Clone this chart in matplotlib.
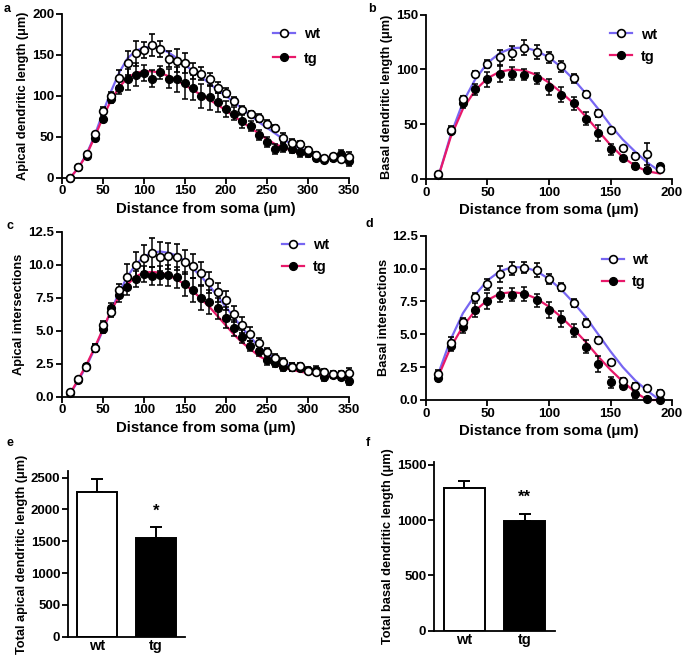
import matplotlib
matplotlib.use("Agg")
import matplotlib.pyplot as plt
import numpy as np

plt.rcParams["font.family"] = ["Liberation Sans", "DejaVu Sans"]
plt.rcParams["font.weight"] = "bold"
plt.rcParams["axes.labelweight"] = "bold"

WT_LINE = "#7766f2"
TG_LINE = "#e8196a"

# ---- apical length (panel a) ----
apical_x = list(range(10, 351, 10))
apical_len_wt = [0, 13, 29, 53, 82, 100, 122, 140, 152, 156, 162, 157, 145, 143, 140, 130, 127, 120,
                 110, 104, 94, 83, 78, 73, 66, 61, 49, 42, 41, 34, 28, 24, 26, 23, 25]
apical_len_wt_err = [1, 2, 3, 3, 4, 5, 10, 15, 15, 10, 13, 10, 10, 14, 12, 10, 8, 8,
                     7, 5, 5, 5, 4, 5, 4, 3, 6, 5, 4, 4, 4, 3, 3, 3, 6]
apical_len_tg = [0, 13, 26, 49, 72, 96, 110, 120, 126, 128, 121, 129, 121, 120, 116, 110, 100, 98,
                 92, 84, 78, 69, 63, 52, 44, 35, 37, 35, 31, 30, 24, 22, 24, 29, 20]
apical_len_tg_err = [1, 2, 3, 3, 4, 5, 8, 13, 14, 10, 10, 8, 12, 15, 20, 15, 15, 15,
                     12, 10, 8, 8, 6, 6, 6, 6, 5, 5, 6, 5, 4, 3, 3, 5, 6]
apical_len_fit_wt = [0, 12, 29, 52, 80, 106, 129, 146, 155, 159, 160, 158, 153, 146, 138, 130, 123, 115,
                     107, 100, 92, 84, 76, 68, 61, 54, 47, 41, 36, 32, 28, 26, 24, 23, 23]
apical_len_fit_tg = [0, 12, 28, 50, 74, 95, 111, 122, 128, 130, 130, 128, 124, 119, 113, 107, 101, 95,
                     89, 82, 75, 68, 61, 54, 47, 41, 37, 33, 30, 28, 26, 25, 24, 24, 24]

# ---- basal length (panel b) ----
basal_x = list(range(10, 191, 10))
basal_len_wt = [5, 45, 73, 96, 105, 111, 115, 120, 116, 111, 103, 92, 78, 60, 45, 28, 21, 23, 9]
basal_len_wt_err = [1, 3, 3, 3, 4, 7, 6, 7, 6, 5, 5, 4, 2, 3, 2, 2, 3, 10, 2]
basal_len_tg = [4, 44, 69, 82, 91, 96, 96, 95, 92, 84, 77, 69, 55, 42, 27, 19, 12, 8, 12]
basal_len_tg_err = [1, 3, 4, 5, 7, 7, 6, 5, 5, 7, 7, 6, 6, 7, 5, 2, 3, 2, 2]
basal_len_fit_wt = [2, 40, 70, 91, 106, 115, 119.5, 120, 117, 111, 102, 91, 78, 64, 49, 36, 25, 15, 7]
basal_len_fit_tg = [2, 38, 64, 81, 92, 98, 100, 99, 95, 88, 79, 69, 57, 44, 31, 20, 12, 7, 5]

# ---- apical intersections (panel c) ----
apical_int_wt = [0.38, 1.34, 2.27, 3.71, 5.43, 6.44, 8.06, 9.07, 9.97, 10.48, 10.9, 10.6, 10.68, 10.6,
                 10.2, 9.9, 9.34, 8.66, 7.9, 7.3, 6.26, 5.43, 4.75, 4.04, 3.36, 2.9, 2.6, 2.24, 2.32,
                 1.95, 1.86, 1.84, 1.72, 1.72, 1.8]
apical_int_wt_err = [0.1, 0.15, 0.2, 0.3, 0.3, 0.4, 0.5, 1.0, 1.0, 1.0, 1.1, 1.1, 1.0, 1.0,
                     0.9, 0.9, 0.9, 0.8, 0.7, 0.7, 0.6, 0.6, 0.5, 0.4, 0.3, 0.3, 0.3, 0.3, 0.25,
                     0.25, 0.25, 0.25, 0.25, 0.25, 0.4]
apical_int_tg = [0.3, 1.3, 2.3, 3.7, 5.1, 6.69, 7.7, 8.33, 8.89, 9.27, 9.14, 9.2, 9.2, 9.04,
                 8.54, 8.08, 7.45, 7.2, 6.7, 5.99, 5.18, 4.55, 3.84, 3.46, 2.78, 2.58, 2.27, 2.22,
                 2.2, 2.02, 2.05, 1.47, 1.64, 1.52, 1.2]
apical_int_tg_err = [0.1, 0.15, 0.2, 0.3, 0.3, 0.4, 0.5, 0.6, 0.6, 0.6, 0.7, 0.7, 0.8, 0.8,
                     0.9, 0.9, 0.9, 0.9, 0.8, 0.8, 0.6, 0.5, 0.4, 0.4, 0.35, 0.3, 0.3, 0.3, 0.25,
                     0.25, 0.25, 0.25, 0.25, 0.25, 0.3]
apical_int_fit_wt = [0.2, 1.2, 2.3, 3.6, 5.0, 6.5, 7.9, 9.1, 10.0, 10.6, 10.9, 11.0, 10.9, 10.7,
                     10.3, 9.7, 9.1, 8.4, 7.6, 6.8, 6.0, 5.2, 4.5, 3.8, 3.3, 2.9, 2.6, 2.3, 2.1,
                     1.9, 1.8, 1.7, 1.6, 1.6, 1.5]
apical_int_fit_tg = [0.2, 1.3, 2.4, 3.7, 5.1, 6.5, 7.6, 8.5, 9.1, 9.4, 9.45, 9.4, 9.2, 8.9,
                     8.5, 8.0, 7.4, 6.8, 6.1, 5.4, 4.7, 4.1, 3.6, 3.1, 2.75, 2.45, 2.2, 2.05, 1.9,
                     1.8, 1.7, 1.6, 1.5, 1.45, 1.4]

# ---- basal intersections (panel d) ----
basal_int_wt = [1.98, 4.36, 5.93, 7.81, 8.8, 9.58, 10.0, 10.07, 9.89, 9.2, 8.62, 7.4, 5.88, 4.56,
                2.87, 1.47, 1.09, 0.89, 0.56]
basal_int_wt_err = [0.3, 0.4, 0.3, 0.3, 0.4, 0.6, 0.5, 0.4, 0.5, 0.4, 0.3, 0.3, 0.3, 0.2,
                    0.2, 0.2, 0.2, 0.2, 0.2]
basal_int_tg = [1.65, 4.1, 5.53, 6.85, 7.56, 7.99, 8.01, 8.06, 7.6, 6.85, 6.14, 5.27, 4.06, 2.74,
                1.34, 1.06, 0.46, 0.1, 0.0]
basal_int_tg_err = [0.2, 0.4, 0.4, 0.5, 0.6, 0.5, 0.5, 0.5, 0.5, 0.6, 0.6, 0.5, 0.5, 0.6,
                    0.4, 0.2, 0.3, 0.1, 0.1]
basal_int_fit_wt = [2.0, 4.6, 6.6, 8.0, 9.1, 9.8, 10.1, 10.1, 9.8, 9.2, 8.4, 7.4, 6.3, 5.0,
                    3.7, 2.5, 1.5, 0.7, 0.0]
basal_int_fit_tg = [1.8, 4.0, 5.6, 6.8, 7.6, 8.1, 8.2, 8.1, 7.7, 7.1, 6.3, 5.4, 4.4, 3.3,
                    2.3, 1.4, 0.6, 0.0, 0.0]

# ---- totals (panels e, f) ----
groups = ["wt", "tg"]
total_apical = [2270, 1550]
total_apical_err = [215, 180]
total_basal = [1290, 995]
total_basal_err = [60, 57]


def style_axis(ax):
    for side in ("top", "right"):
        ax.spines[side].set_visible(False)
    for side in ("left", "bottom"):
        ax.spines[side].set_linewidth(1.3)
    ax.tick_params(width=1.3, length=4, labelsize=9.5, pad=1.5)
    for lab in ax.get_xticklabels() + ax.get_yticklabels():
        lab.set_fontweight("bold")


def sholl_panel(rect, x, wt, wt_err, tg, tg_err, fit_wt, fit_tg, xmax, ymax, ystep,
                ylabel, legend_at, spacing=0.55, fmt=None):
    ax = fig.add_axes(rect)
    ax.plot(x, fit_wt, color=WT_LINE, lw=1.6, zorder=1, clip_on=False)
    ax.plot(x, fit_tg, color=TG_LINE, lw=1.6, zorder=1, clip_on=False)
    ax.errorbar(x, tg, yerr=tg_err, fmt="o", color="black", ms=5.6, mfc="black", mec="black",
                ecolor="black", elinewidth=1.1, capsize=2.3, capthick=1.1, zorder=3, clip_on=False)
    ax.errorbar(x, wt, yerr=wt_err, fmt="o", color="black", ms=5.6, mfc="white", mec="black",
                mew=1.2, ecolor="black", elinewidth=1.1, capsize=2.3, capthick=1.1, zorder=4,
                clip_on=False)
    # legend proxies
    h_wt, = ax.plot([], [], color=WT_LINE, lw=1.6, marker="o", ms=5.6, mfc="white", mec="black", mew=1.2)
    h_tg, = ax.plot([], [], color=TG_LINE, lw=1.6, marker="o", ms=5.6, mfc="black", mec="black")
    ax.legend([h_wt, h_tg], ["wt", "tg"], loc="upper left", bbox_to_anchor=legend_at,
              frameon=False, borderaxespad=0, borderpad=0, handlelength=1.5,
              handletextpad=0.6, labelspacing=spacing, prop={"weight": "bold", "size": 10.5})
    ax.set_xlim(0, xmax)
    ax.set_ylim(0, ymax)
    ax.set_xticks(np.arange(0, xmax + 1, 50))
    ax.set_yticks(np.arange(0, ymax + ystep / 2, ystep))
    if fmt:
        ax.yaxis.set_major_formatter(matplotlib.ticker.FormatStrFormatter(fmt))
    ax.set_xlabel("Distance from soma (μm)", fontsize=10.8, labelpad=3)
    ax.set_ylabel(ylabel, fontsize=9.2, labelpad=2)
    style_axis(ax)
    return ax


def bar_panel(rect, vals, errs, ymax, ystep, ylabel, stars, star_y):
    ax = fig.add_axes(rect)
    xs = np.arange(len(groups))
    ax.bar(xs, vals, width=0.68, color=["white", "black"], edgecolor="black", linewidth=1.4,
           zorder=2)
    ax.errorbar(xs, vals, yerr=[[0, 0], errs], fmt="none", ecolor="black", elinewidth=1.4,
                capsize=4, capthick=1.4, zorder=1)
    ax.text(1, star_y, stars, ha="center", va="center", fontsize=12, fontweight="bold")
    ax.set_xlim(-0.5, 1.5)
    ax.set_ylim(0, ymax)
    ax.set_xticks(xs)
    ax.set_xticklabels(groups)
    ax.set_yticks(np.arange(0, ymax, ystep))
    ax.set_ylabel(ylabel, fontsize=9.2, labelpad=2)
    style_axis(ax)
    ax.tick_params(axis="x", length=0, pad=1.5, labelsize=10.5)
    return ax


W, H = 685, 657
fig = plt.figure(figsize=(W / 100, H / 100), dpi=100)


def px_rect(left, right, top, bottom):
    return [left / W, 1 - bottom / H, (right - left) / W, (bottom - top) / H]


sholl_panel(px_rect(62, 349, 14, 177.7), apical_x, apical_len_wt, apical_len_wt_err,
            apical_len_tg, apical_len_tg_err, apical_len_fit_wt, apical_len_fit_tg,
            350, 200, 50, "Apical dendritic length (μm)", (0.735, 0.92), spacing=0.72)
sholl_panel(px_rect(426, 672, 14.7, 179), basal_x, basal_len_wt, basal_len_wt_err,
            basal_len_tg, basal_len_tg_err, basal_len_fit_wt, basal_len_fit_tg,
            200, 150, 50, "Basal dendritic length (μm)", (0.748, 0.922))
sholl_panel(px_rect(61.7, 349, 231.7, 396.7), apical_x, apical_int_wt, apical_int_wt_err,
            apical_int_tg, apical_int_tg_err, apical_int_fit_wt, apical_int_fit_tg,
            350, 12.5, 2.5, "Apical intersections", (0.767, 0.96), fmt="%.1f")
sholl_panel(px_rect(426, 672, 235.7, 400), basal_x, basal_int_wt, basal_int_wt_err,
            basal_int_tg, basal_int_tg_err, basal_int_fit_wt, basal_int_fit_tg,
            200, 12.5, 2.5, "Basal intersections", (0.714, 0.892), fmt="%.1f")
bar_panel(px_rect(68, 185, 471.3, 636.7), total_apical, total_apical_err, 2600, 500,
          "Total apical dendritic length (μm)", "*", 1965)
bar_panel(px_rect(434, 555, 462, 630.7), total_basal, total_basal_err, 1525, 500,
          "Total basal dendritic length (μm)", "**", 1208)

for letter, (x, y) in {"a": (4, 9), "b": (368, 9), "c": (6, 226), "d": (366, 224),
                       "e": (6, 443), "f": (366, 443)}.items():
    fig.text(x / W, 1 - y / H, letter, fontsize=9, fontweight="bold", ha="left", va="center")

fig.savefig("out.png", dpi=100)
